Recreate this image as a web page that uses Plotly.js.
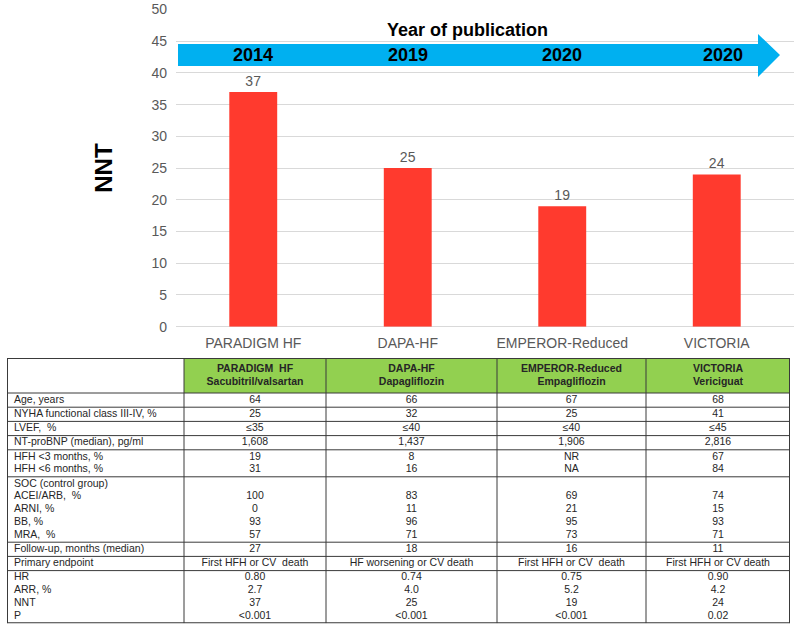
<!DOCTYPE html>
<html><head><meta charset="utf-8">
<script src="https://cdn.plot.ly/plotly-3.0.1.min.js"></script>
<style>html,body{margin:0;padding:0;background:#fff}</style>
</head><body><div id="chart" style="width:800px;height:627px"></div>
<script>
// ---- bar chart data ----
const trials = ['PARADIGM HF', 'DAPA-HF', 'EMPEROR-Reduced', 'VICTORIA'];
const nntValues = [37, 25, 19, 24];
const pubYears = ['2014', '2019', '2020', '2020'];
const yTickValues = [0, 5, 10, 15, 20, 25, 30, 35, 40, 45, 50];

// ---- table data ----
const headerTrials = ['PARADIGM  HF', 'DAPA-HF', 'EMPEROR-Reduced', 'VICTORIA'];
const headerDrugs = ['Sacubitril/valsartan', 'Dapagliflozin', 'Empagliflozin', 'Vericiguat'];
const rowLabels = ['Age, years', 'NYHA functional class III-IV, %', 'LVEF,  %', 'NT-proBNP (median), pg/ml',
  'HFH &lt;3 months, %', 'HFH &lt;6 months, %',
  'SOC (control group)', 'ACEI/ARB,  %', 'ARNI, %', 'BB, %', 'MRA,  %',
  'Follow-up, months (median)', 'Primary endpoint', 'HR', 'ARR, %', 'NNT', 'P'];
const paradigmValues = ['64', '25', '≤35', '1,608', '19', '31', '', '100', '0', '93', '57', '27',
  'First HFH or CV  death', '0.80', '2.7', '37', '&lt;0.001'];
const dapaValues = ['66', '32', '≤40', '1,437', '8', '16', '', '83', '11', '96', '71', '18',
  'HF worsening or CV death', '0.74', '4.0', '25', '&lt;0.001'];
const emperorValues = ['67', '25', '≤40', '1,906', 'NR', 'NA', '', '69', '21', '95', '73', '16',
  'First HFH or CV  death', '0.75', '5.2', '19', '&lt;0.001'];
const victoriaValues = ['68', '41', '≤45', '2,816', '67', '84', '', '74', '15', '93', '71', '11',
  'First HFH or CV death', '0.90', '4.2', '24', '0.02'];
const rowGroupSizes = [1, 1, 1, 1, 2, 5, 1, 1, 4];

// ---- layout constants (table geometry, in table-local pixels) ----
const colWidths = [177, 142, 171, 149, 144];
const headerHeight = 35;
const lineHeight = 12.8;
const rowPad = 1.4;

const W = 800, H = 627;
const px = x => x / W;          // pixel -> paper x
const py = y => 1 - y / H;      // pixel -> paper y
const font = 'Liberation Sans, Arial, sans-serif';
const textColor = '#262626';

// column edges
const colEdges = [0];
colWidths.forEach(w => colEdges.push(colEdges[colEdges.length - 1] + w));
const colCenters = colWidths.map((w, i) => colEdges[i] + w / 2);
// row boundaries and line centres
const rowEdges = [0, headerHeight];
const lineCenters = [];
rowGroupSizes.forEach(n => {
  const top = rowEdges[rowEdges.length - 1];
  for (let k = 0; k < n; k++) lineCenters.push(top + rowPad / 2 + (k + 0.5) * lineHeight);
  rowEdges.push(top + n * lineHeight + rowPad);
});
const tableW = colEdges[colEdges.length - 1];
const tableH = rowEdges[rowEdges.length - 1];

// ---- traces ----
const bar = {
  type: 'bar', x: trials, y: nntValues,
  marker: {color: '#FF3A2E'},
  text: nntValues.map(String), textposition: 'outside', cliponaxis: false,
  textfont: {family: font, size: 14, color: '#595959'},
  xaxis: 'x', yaxis: 'y', hoverinfo: 'x+y'
};

const textTrace = (xs, ys, texts, pos) => ({
  type: 'scatter', mode: 'text', x: xs, y: ys, text: texts, textposition: pos,
  textfont: {family: font, size: 10.5, color: textColor},
  xaxis: 'x2', yaxis: 'y2', cliponaxis: false, hoverinfo: 'skip'
});

const labelTrace = textTrace(rowLabels.map(() => 7), lineCenters, rowLabels, 'middle right');
const valueCols = [paradigmValues, dapaValues, emperorValues, victoriaValues];
const valueTraces = valueCols.map((vals, c) =>
  textTrace(vals.map(() => colCenters[c + 1]), lineCenters, vals, 'middle center'));
const headerTrace = textTrace(colCenters.slice(1), headerTrials.map(() => headerHeight / 2 + 0.5),
  headerTrials.map((t, i) => '<b>' + t + '</b><br><b>' + headerDrugs[i] + '</b>'), 'middle center');

// ---- shapes ----
const shapes = [];
shapes.push({type: 'rect', xref: 'x2', yref: 'y2', x0: colEdges[1], x1: tableW, y0: 0, y1: headerHeight,
  fillcolor: '#92D050', line: {width: 0}, layer: 'below'});
colEdges.forEach((x, i) => shapes.push({type: 'line', xref: 'x2', yref: 'y2', x0: x, x1: x, y0: 0, y1: tableH,
  line: {color: '#3a3a3a', width: (i === 0 || i === colEdges.length - 1) ? 2 : 1}}));
rowEdges.forEach((y, i) => shapes.push({type: 'line', xref: 'x2', yref: 'y2', x0: 0, x1: tableW, y0: y, y1: y,
  line: {color: '#3a3a3a', width: (i === 0 || i === rowEdges.length - 1) ? 2 : 1}}));
const arrowPts = [[178, 44], [758, 44], [758, 34], [780, 55], [758, 77], [758, 66], [178, 66]];
shapes.push({type: 'path', xref: 'paper', yref: 'paper',
  path: 'M ' + arrowPts.map(p => px(p[0]) + ',' + py(p[1])).join(' L ') + ' Z',
  fillcolor: '#00B0F0', line: {width: 0}, layer: 'above'});

const annotations = pubYears.map((yr, i) => ({
  x: trials[i], y: 42.9, xref: 'x', yref: 'y', text: '<b>' + yr + '</b>', showarrow: false,
  xanchor: 'center', yanchor: 'middle',
  font: {family: font, size: 18, color: '#000'}, xshift: i === 3 ? 6 : 0
}));
annotations.push({
  x: px(467), y: py(30), xref: 'paper', yref: 'paper', text: '<b>Year of publication</b>',
  xanchor: 'center', yanchor: 'middle', showarrow: false, font: {family: font, size: 18, color: '#000'}
});

const layout = {
  width: W, height: H, margin: {l: 0, r: 0, t: 0, b: 0, autoexpand: false},
  paper_bgcolor: '#fff', plot_bgcolor: 'rgba(0,0,0,0)',
  font: {family: font},
  showlegend: false,
  bargap: 0.69,
  xaxis: {
    domain: [px(176), px(794)], type: 'category', showgrid: false, zeroline: false, showline: false,
    ticks: '', tickfont: {family: font, size: 14, color: '#595959'}, ticklabelstandoff: 6,
    automargin: false, fixedrange: true
  },
  yaxis: {
    domain: [py(326.7), py(9.5)], range: [0, 50], tickvals: yTickValues, showline: false,
    gridcolor: '#D9D9D9', gridwidth: 1, zeroline: true, zerolinecolor: '#D9D9D9', zerolinewidth: 1,
    ticks: '', tickfont: {family: font, size: 14, color: '#595959'}, ticklabelstandoff: 8,
    automargin: false, fixedrange: true,
    title: {text: '<b>NNT</b>', font: {family: font, size: 24, color: '#000'}, standoff: 31.5}
  },
  xaxis2: {domain: [px(7), px(7 + tableW)], range: [0, tableW], visible: false, fixedrange: true},
  yaxis2: {domain: [py(358 + tableH), py(358)], range: [tableH, 0], visible: false, fixedrange: true},
  shapes: shapes,
  annotations: annotations
};

Plotly.newPlot('chart', [bar, labelTrace, headerTrace].concat(valueTraces), layout,
  {displayModeBar: false, staticPlot: true});
</script>
</body></html>
